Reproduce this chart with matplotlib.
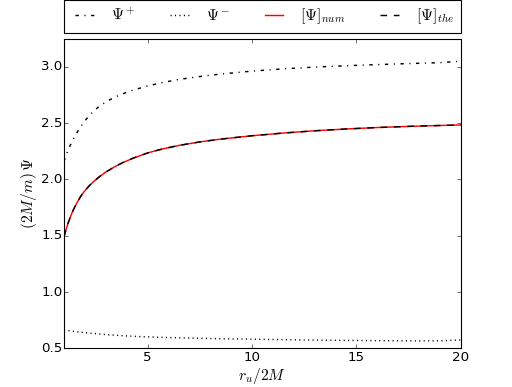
import numpy as np
import matplotlib
matplotlib.use('Agg')
import matplotlib.pyplot as plt

plt.style.use('classic')

# values
r = [1.0, 1.1, 1.2, 1.3, 1.4, 1.5, 1.65, 1.8, 2.0, 2.2, 2.4, 2.7, 3.0, 3.4, 3.8,
     4.3, 5.0, 5.7, 6.5, 7.5, 8.5, 10.0, 11.5, 13.0, 14.5, 16.0, 17.5, 19.0, 20.0]
psi_plus = [2.160, 2.215, 2.262, 2.303, 2.342, 2.378, 2.425, 2.468, 2.520, 2.565,
            2.605, 2.650, 2.688, 2.728, 2.760, 2.793, 2.830, 2.860, 2.888, 2.914,
            2.936, 2.962, 2.982, 2.998, 3.010, 3.020, 3.029, 3.037, 3.050]
psi_minus = [0.662, 0.660, 0.657, 0.655, 0.652, 0.650, 0.646, 0.643, 0.639, 0.635,
             0.632, 0.627, 0.622, 0.617, 0.612, 0.607, 0.601, 0.597, 0.593, 0.589,
             0.585, 0.581, 0.577, 0.573, 0.570, 0.568, 0.566, 0.566, 0.574]
psi = [1.490, 1.556, 1.614, 1.665, 1.710, 1.750, 1.803, 1.850, 1.900, 1.942,
       1.978, 2.025, 2.065, 2.110, 2.148, 2.188, 2.235, 2.270, 2.302, 2.333,
       2.358, 2.388, 2.412, 2.432, 2.448, 2.461, 2.471, 2.479, 2.484]

fig = plt.figure(figsize=(6.4, 4.8375), dpi=80)
ax = fig.add_subplot(111)

ax.plot(r, psi_plus, 'k-.', lw=1.3, label=r'$\Psi^+$')
ax.plot(r, psi_minus, 'k:', lw=1.3, label=r'$\Psi^-$')
ax.plot(r, psi, 'r-', lw=1.3, label=r'$[\Psi]_{num}$')
ax.plot(r, psi, 'k--', lw=1.3, label=r'$[\Psi]_{the}$')

ax.set_xlim(1, 20)
ax.set_ylim(0.5, 3.25)
ax.set_xticks([5, 10, 15, 20])
ax.set_yticks([0.5, 1.0, 1.5, 2.0, 2.5, 3.0])
ax.tick_params(axis='x', pad=2)
ax.tick_params(axis='y', pad=1.5)
ax.set_xlabel(r'$r_u/2M$', fontsize=14, labelpad=2)
ax.set_ylabel(r'$(2M/m)\,\Psi$', fontsize=14, labelpad=2)

ax.legend(bbox_to_anchor=(0., 1.02, 1., .102), loc=3, ncol=4,
          mode='expand', borderaxespad=0., fontsize=14, handlelength=1.8)

fig.savefig('out.png', dpi=80)
